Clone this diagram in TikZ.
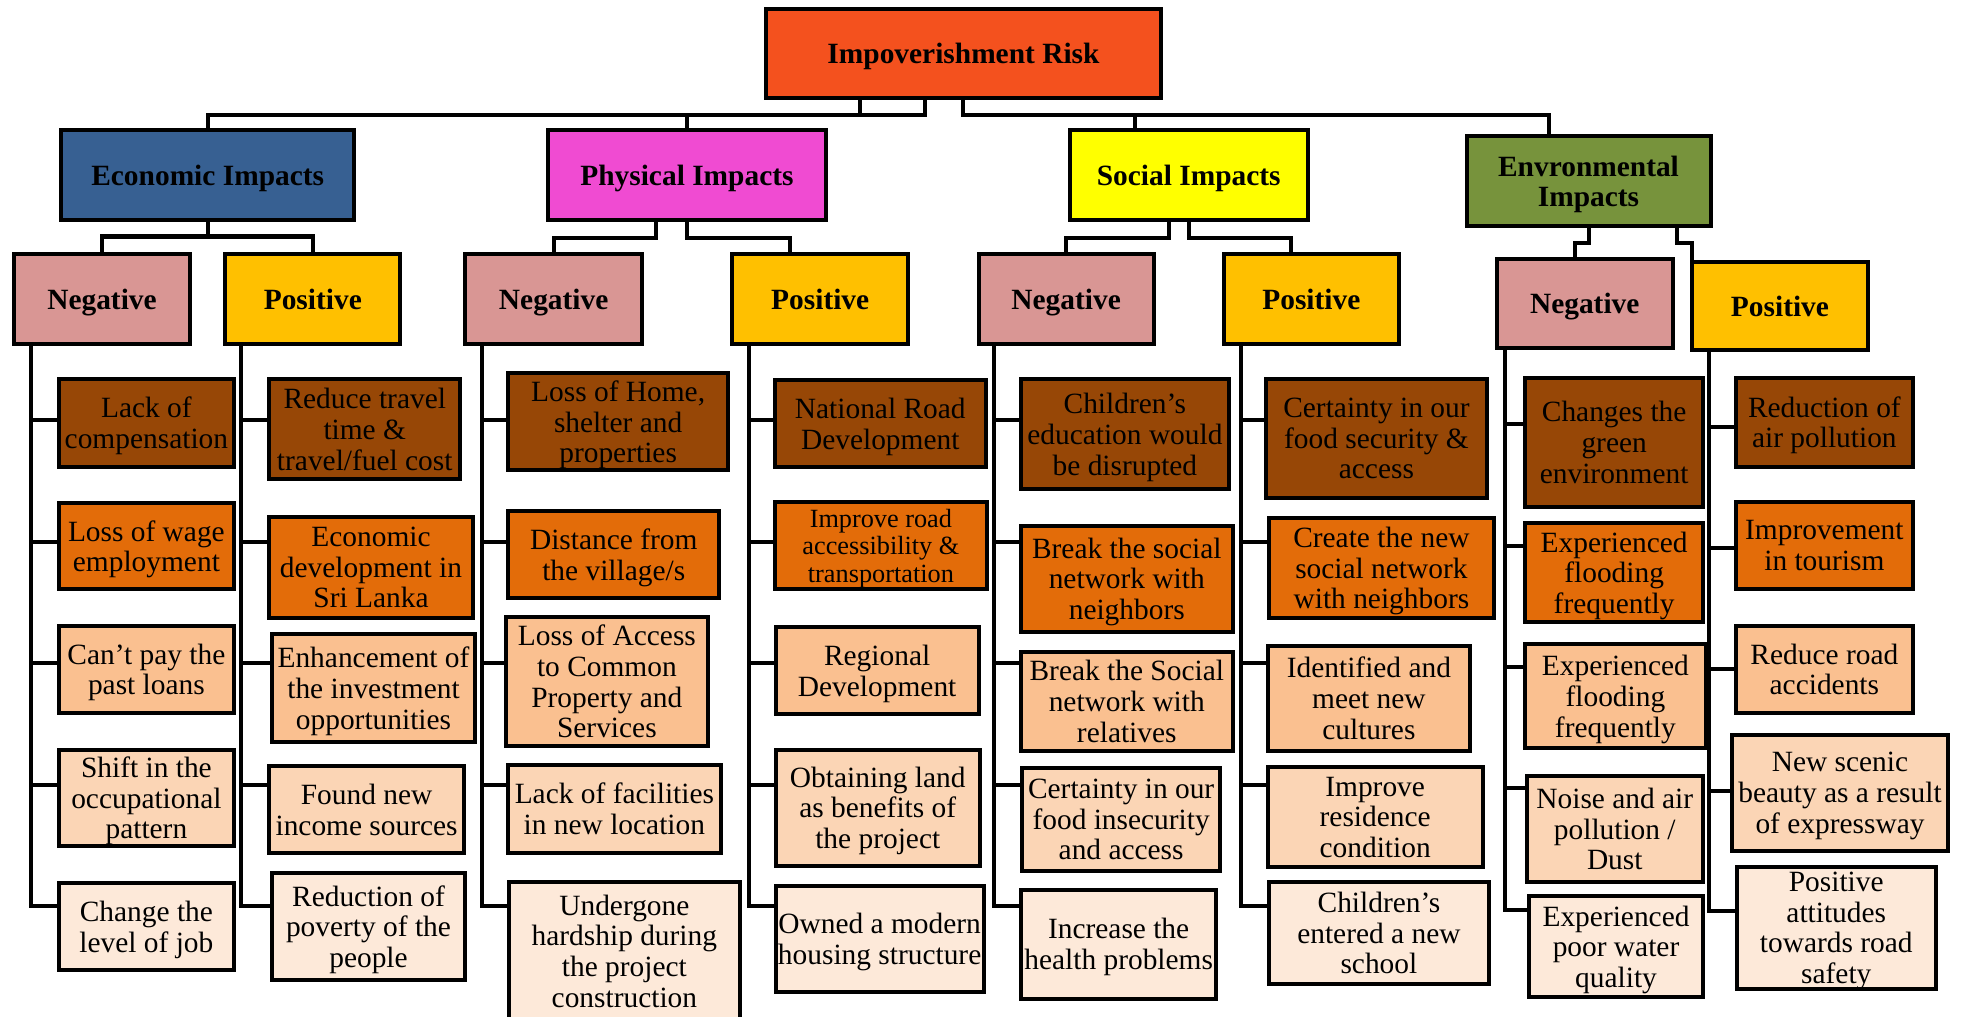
\documentclass[tikz,border=0pt]{standalone}
\usepackage{fontspec}
\setmainfont{Liberation Serif}

\definecolor{riskred}{HTML}{F4511E}
\definecolor{ecoblue}{HTML}{376092}
\definecolor{phypink}{HTML}{F04BD2}
\definecolor{socyellow}{HTML}{FFFF00}
\definecolor{envgreen}{HTML}{77933C}
\definecolor{negpink}{HTML}{D99694}
\definecolor{posgold}{HTML}{FFC000}
\definecolor{lvA}{HTML}{974706}
\definecolor{lvB}{HTML}{E36C09}
\definecolor{lvC}{HTML}{FAC090}
\definecolor{lvD}{HTML}{FBD5B5}
\definecolor{lvE}{HTML}{FDE9D9}

\begin{document}
\begin{tikzpicture}[x=1pt, y=-1pt,
  box/.style={draw, line width=3.2pt, inner sep=0pt, align=center, text depth=0pt},
  head/.style n args={3}{box, fill=#1, minimum width=#2pt, minimum height=#3pt,
    font=\fontsize{23.5}{24.5}\selectfont\bfseries},
  lf/.style n args={3}{box, fill=#1, minimum width=#2pt, minimum height=#3pt,
    font=\fontsize{23.5}{24.5}\selectfont},
  link/.style={line width=3.2pt}]

\useasboundingbox (0,0) rectangle (1568,812);

% risiko utama
\node[head={riskred}{316}{71}] (risk) at (770,42.5) {Impoverishment Risk};

% kelompok dampak
\node[head={ecoblue}{234}{72}] (eco) at (166,140) {Economic Impacts};
\node[head={phypink}{222}{72}] (phy) at (549,140) {Physical Impacts};
\node[head={socyellow}{190}{72}] (soc) at (950,140) {Social Impacts};
\node[head={envgreen}{195}{72}] (env) at (1269.5,145) {Envronmental\\Impacts};

% negatif / positif
\node[head={negpink}{141}{72}] (ecn) at (81.5,239) {Negative};
\node[head={posgold}{140}{72}] (ecp) at (250,239) {Positive};
\node[head={negpink}{141}{72}] (phn) at (442.5,239) {Negative};
\node[head={posgold}{141}{72}] (php) at (655.5,239) {Positive};
\node[head={negpink}{140}{72}] (scn) at (852,239) {Negative};
\node[head={posgold}{140}{72}] (scp) at (1048,239) {Positive};
\node[head={negpink}{141}{71}] (evn) at (1266.5,242.5) {Negative};
\node[head={posgold}{141}{71}] (evp) at (1422.5,244.5) {Positive};

% ekonomi - negatif
\node[lf={lvA}{140}{70}] (ecn1) at (117,338) {Lack of\\compensation};
\node[lf={lvB}{140}{69}] (ecn2) at (117,436.5) {Loss of wage\\employment};
\node[lf={lvC}{140}{70}] (ecn3) at (117,535) {Can’t pay the\\past loans};
\node[lf={lvD}{140}{77}] (ecn4) at (117,637.5) {Shift in the\\occupational\\pattern};
\node[lf={lvE}{140}{69}] (ecn5) at (117,740.5) {Change the\\level of job};

% ekonomi - positif
\node[lf={lvA}{153}{80}] (ecp1) at (291.5,343) {Reduce travel\\time \&\\travel/fuel cost};
\node[lf={lvB}{163}{81}] (ecp2) at (296.5,453.5) {Economic\\development in\\Sri Lanka};
\node[lf={lvC}{163}{86}] (ecp3) at (298.5,550) {Enhancement of\\the investment\\opportunities};
\node[lf={lvD}{156}{70}] (ecp4) at (293,647) {Found new\\income sources};
\node[lf={lvE}{155}{85}] (ecp5) at (294.5,740.5) {Reduction of\\poverty of the\\people};

% fisik - negatif
\node[lf={lvA}{176}{78}] (phn1) at (494,337) {Loss of Home,\\shelter and\\properties};
\node[lf={lvB}{169}{70}] (phn2) at (490.5,443) {Distance from\\the village/s};
\node[lf={lvC}{162}{103}] (phn3) at (485,544.5) {Loss of Access\\to Common\\Property and\\Services};
\node[lf={lvD}{170}{71}] (phn4) at (491,646.5) {Lack of facilities\\in new location};
\node[lf={lvE}{184}{110}] (phn5) at (499,760) {Undergone\\hardship during\\the project\\construction};

% fisik - positif
\node[lf={lvA}{169}{69}] (php1) at (703.5,338.5) {National Road\\Development};
\node[lf={lvB}{170}{70}, font=\fontsize{21}{22}\selectfont] (php2) at (704,436) {Improve road\\accessibility \&\\transportation};
\node[lf={lvC}{162}{70}] (php3) at (701,536) {Regional\\Development};
\node[lf={lvD}{163}{93}] (php4) at (701.5,645.5) {Obtaining land\\as benefits of\\the project};
\node[lf={lvE}{166}{85}] (php5) at (703,750.5) {Owned a modern\\housing structure};

% sosial - negatif
\node[lf={lvA}{166}{88}] (scn1) at (899,347) {Children’s\\education would\\be disrupted};
\node[lf={lvB}{169}{85}] (scn2) at (900.5,462.5) {Break the social\\network with\\neighbors};
\node[lf={lvC}{169}{79}] (scn3) at (900.5,560.5) {Break the Social\\network with\\relatives};
\node[lf={lvD}{158}{82}] (scn4) at (896,655) {Certainty in our\\food insecurity\\and access};
\node[lf={lvE}{156}{87}] (scn5) at (894,754.5) {Increase the\\health problems};

% sosial - positif
\node[lf={lvA}{176}{95}] (scp1) at (1100,350.5) {Certainty in our\\food security \&\\access};
\node[lf={lvB}{180}{80}] (scp2) at (1104,454) {Create the new\\social network\\with neighbors};
\node[lf={lvC}{162}{84}] (scp3) at (1094,558) {Identified and\\meet new\\cultures};
\node[lf={lvD}{172}{80}] (scp4) at (1099,653) {Improve\\residence\\condition};
\node[lf={lvE}{176}{81}] (scp5) at (1102,745.5) {Children’s\\entered a new\\school};

% lingkungan - negatif
\node[lf={lvA}{142}{103}] (evn1) at (1290,353.5) {Changes the\\green\\environment};
\node[lf={lvB}{142}{79}] (evn2) at (1290,457.5) {Experienced\\flooding\\frequently};
\node[lf={lvC}{144}{83}] (evn3) at (1291,556.5) {Experienced\\flooding\\frequently};
\node[lf={lvD}{141}{85}] (evn4) at (1290.5,662.5) {Noise and air\\pollution /\\Dust};
\node[lf={lvE}{139}{81}] (evn5) at (1291.5,756.5) {Experienced\\poor water\\quality};

% lingkungan - positif
\node[lf={lvA}{142}{71}] (evp1) at (1458,337.5) {Reduction of\\air pollution};
\node[lf={lvB}{142}{70}] (evp2) at (1458,436) {Improvement\\in tourism};
\node[lf={lvC}{142}{70}] (evp3) at (1458,535) {Reduce road\\accidents};
\node[lf={lvD}{173}{93}] (evp4) at (1470.5,633.5) {New scenic\\beauty as a result\\of expressway};
\node[lf={lvE}{159}{97}] (evp5) at (1467.5,741.5) {Positive\\attitudes\\towards road\\safety};

% titik masuk garis yang tidak di tengah
\coordinate (soc-in) at ([xshift=-43pt]soc.north);
\coordinate (env-in) at ([xshift=-31.5pt]env.north);
\coordinate (php-in) at ([xshift=-24.5pt]php.north);
\coordinate (scp-in) at ([xshift=-16pt]scp.north);
\coordinate (evn-in) at ([xshift=-7.5pt]evn.north);
\coordinate (evp-in) at ([xshift=-70.5pt]evp.north);

% garis dari risiko utama
\draw[link] ([xshift=-31pt]risk.south) |- (eco.north |- 0,92) -- (eco.north);
\draw[link] ([xshift=-83pt]risk.south) |- (phy.north |- 0,92) -- (phy.north);
\draw[link] (risk.south) |- (soc-in |- 0,92) -- (soc-in);
\draw[link] (risk.south) |- (env-in |- 0,92) -- (env-in);

% garis ke negatif / positif
\draw[link] (eco.south) -- (eco.south |- 0,189);
\draw[link] (ecn.north) |- (ecp.north |- 0,189) -- (ecp.north);
\draw[link] ([xshift=-25pt]phy.south) |- (phn.north |- 0,190) -- (phn.north);
\draw[link] (phy.south) |- (php-in |- 0,190) -- (php-in);
\draw[link] ([xshift=-16pt]soc.south) |- (scn.north |- 0,190) -- (scn.north);
\draw[link] (soc.south) |- (scp-in |- 0,190) -- (scp-in);
\draw[link] (env.south) |- (evn-in |- 0,194) -- (evn-in);
\draw[link] ([xshift=70.5pt]env.south) |- (evp-in |- 0,194) -- (evp-in);

% garis ke kotak dampak
\foreach \i/\y in {1/336,2/433,3/530,4/627,5/724} {
  \draw[link] ([xshift=15pt]ecn.south west) |- (ecn\i.west |- 0,\y);
  \draw[link] ([xshift=14pt]ecp.south west) |- (ecp\i.west |- 0,\y);
  \draw[link] ([xshift=15pt]phn.south west) |- (phn\i.west |- 0,\y);
  \draw[link] ([xshift=15pt]php.south west) |- (php\i.west |- 0,\y);
  \draw[link] ([xshift=14pt]scn.south west) |- (scn\i.west |- 0,\y);
  \draw[link] ([xshift=15pt]scp.south west) |- (scp\i.west |- 0,\y);
}
\foreach \i/\y in {1/339,2/436,3/533,4/630,5/727} {
  \draw[link] ([xshift=8pt]evn.south west) |- (evn\i.west |- 0,\y);
}
\foreach \i/\y in {1/341,2/438,3/535,4/632,5/728} {
  \draw[link] ([xshift=15pt]evp.south west) |- (evp\i.west |- 0,\y);
}

\end{tikzpicture}
\end{document}
